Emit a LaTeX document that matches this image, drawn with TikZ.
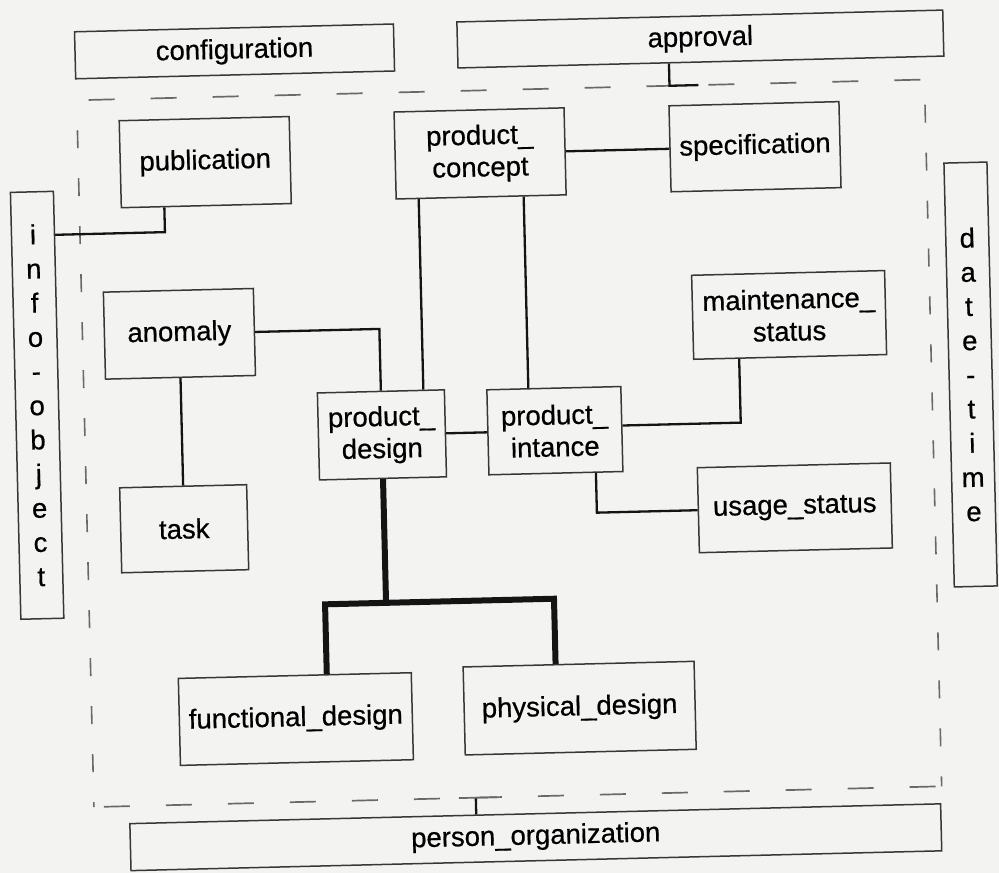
\documentclass[tikz,border=0pt]{standalone}
\usepackage{fontspec}
\setmainfont{Liberation Sans}[FakeBold=0.6]

\definecolor{paper}{RGB}{243,243,242}
\definecolor{boxline}{RGB}{55,55,55}
\definecolor{wire}{RGB}{20,20,20}
\definecolor{dashgray}{RGB}{105,105,105}

\newcommand\boxfont{\fontsize{27.5}{32}\selectfont}
\newcommand\stackfont{\fontsize{27.5}{34.2}\selectfont}

\tikzset{
  entity/.style={draw=boxline, line width=1.5pt, inner sep=0pt,
                 align=center, font=\boxfont},
  stack/.style={entity, font=\stackfont},
  link/.style={draw=wire, line width=2.3pt},
  treelink/.style={draw=wire, line width=6pt, line join=miter},
  hdash/.style={draw=dashgray, line width=1.7pt, dash pattern=on 26pt off 36pt},
  vdash/.style={draw=dashgray, line width=1.6pt, dash pattern=on 18pt off 30pt},
}

\begin{document}
\begin{tikzpicture}[x=1pt, y=-1pt]
\useasboundingbox (0,0) rectangle (999,873);
\fill[paper] (0,0) rectangle (999,873);
\clip (0,0) rectangle (999,873);

\begin{scope}[transform canvas={rotate around={1.4:(500,436)}}]

% outer context boxes
\node[entity, minimum width=319pt, minimum height=47pt] (cfg) at (244,45) {configuration};
\node[entity, minimum width=486pt, minimum height=46pt] (ap)  at (710,44) {approval};
\node[entity, minimum width=811pt, minimum height=47pt] (po)  at (526,838) {person\_organization};
\node[stack, minimum width=43pt, minimum height=427pt] (io) at (38,394)
  {i\\n\\f\\o\\-\\o\\b\\j\\e\\c\\t};
\node[stack, minimum width=43pt, minimum height=424pt] (dt) at (972,386)
  {d\\a\\t\\e\\-\\t\\i\\m\\e};

% dashed envelope
\coordinate (envNW) at (85,90);
\coordinate (envNE) at (933,90);
\coordinate (envSE) at (933,797);
\coordinate (envSW) at (85,797);
\draw[hdash, dash phase=-12pt] (envNW) -- (envNE);
\draw[hdash, dash phase=-10pt] (envSW) -- (envSE);
\draw[vdash, dash phase=-30pt] (envNW) -- (envSW);
\draw[vdash, dash phase=-25pt] (envNE) -- (envSE);

% inner entities
\node[entity, minimum width=170pt, minimum height=87pt] (pub)  at (212,155) {publication};
\node[entity, minimum width=170pt, minimum height=87pt] (pc)   at (487,153) {product\_\\concept};
\node[entity, minimum width=170pt, minimum height=86pt] (spec) at (762,153) {specification};
\node[entity, minimum width=193pt, minimum height=84pt] (ms)   at (792,322) {maintenance\_\\status};
\node[entity, minimum width=150pt, minimum height=87pt] (anom) at (182,326) {anomaly};
\node[entity, minimum width=127pt, minimum height=85pt] (task) at (182,521) {task};
\node[entity, minimum width=127pt, minimum height=87pt] (pd)   at (382,432) {product\_\\design};
\node[entity, minimum width=134pt, minimum height=85pt] (pi)   at (555,432) {product\_\\intance};
\node[entity, minimum width=193pt, minimum height=85pt] (us)   at (793,515) {usage\_status};
\node[entity, minimum width=233pt, minimum height=87pt] (fd)   at (289,714) {functional\_design};
\node[entity, minimum width=231pt, minimum height=88pt] (phd)  at (573,710) {physical\_design};

% connectors
\coordinate (pubbend) at (170,224);
\draw[link] (pub.south -| pubbend) -- (pubbend) -- (io.east |- pubbend);

\draw[link] (pc.east) -- (spec.west);

\coordinate (pcL) at ([xshift=-62.5pt]pc.south);
\draw[link] (pcL) -- (pcL |- pd.north);
\coordinate (pcR) at ([xshift=42.5pt]pc.south);
\draw[link] (pcR) -- (pcR |- pi.north);

\draw[link] (anom.east) -| (pd.north);
\draw[link] (anom.south) -- (task.north);
\draw[link] (pd.east) -- (pi.west);

\coordinate (piR) at ([yshift=3.5pt]pi.east);
\coordinate (msB) at ([xshift=-51pt]ms.south);
\draw[link] (piR) -| (msB);

\coordinate (piB) at ([xshift=40pt]pi.south);
\draw[link] (piB) |- (us.west);

% approval ties into the envelope
\coordinate (apB) at ([xshift=-32pt]ap.south);
\coordinate (apEnd) at (707,90);
\draw[link] (apB) |- (apEnd);

% person_organization ties into the envelope
\coordinate (poT) at ([xshift=-59pt]po.north);
\coordinate (poJ) at (poT |- envSW);
\draw[link] (poT) -- (poJ);
\draw[draw=dashgray, line width=1.7pt] ([xshift=-17pt]poJ) -- ([xshift=21pt]poJ);

% decomposition of product_design
\coordinate (bar) at (0,600);
\coordinate (fdT) at ([xshift=32pt]fd.north);
\coordinate (phT) at ([xshift=-23pt]phd.north);
\draw[treelink] (pd.south) -- (pd.south |- bar);
\draw[treelink] (fdT) -- (fdT |- bar) -- (phT |- bar) -- (phT);

\end{scope}
\end{tikzpicture}
\end{document}
